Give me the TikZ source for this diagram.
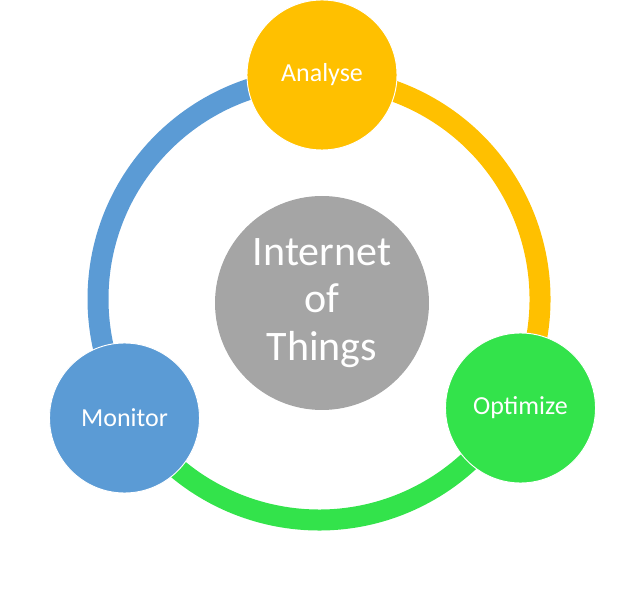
\documentclass[tikz,border=0pt]{standalone}
\usepackage{fontspec}
\setmainfont{Carlito}
\usetikzlibrary{positioning}
\definecolor{iotOrange}{HTML}{FFC000}
\definecolor{iotBlue}{HTML}{5B9BD5}
\definecolor{iotGreen}{HTML}{33E34B}
\definecolor{iotGray}{HTML}{A5A5A5}
\tikzset{
  stage/.style={circle, draw=white, line width=0.7pt, minimum size=112.5pt, inner sep=0pt, text=white, font=\fontsize{19.5}{23}\selectfont},
  hub/.style={circle, fill=iotGray, minimum size=160.5pt, inner sep=0pt, text=white, align=center, font=\fontsize{31.5}{35.6}\selectfont},
  ringarc/.style={line width=15.75pt},
}

\begin{document}
\begin{tikzpicture}[x=0.75pt,y=0.75pt]
  \useasboundingbox (0,0) rectangle (643,-591);

  % ring behind the stages
  \coordinate (ringc) at (319,-299);
  \draw[ringarc, draw=iotBlue] ([shift={(90:221)}]ringc) arc[start angle=90, end angle=211.5, radius=221];
  \draw[ringarc, draw=iotGreen] ([shift={(211.5:221)}]ringc) arc[start angle=211.5, end angle=331.6, radius=221];
  \draw[ringarc, draw=iotOrange] ([shift={(-28.4:221)}]ringc) arc[start angle=-28.4, end angle=90, radius=221];

  \node[hub] (iot) at (322,-303) {Internet\\of\\Things};

  % stages
  \node[stage, fill=iotOrange] (analyse) at (322,-75) {Analyse};
  \node[stage, fill=iotGreen] (optimize) at (520.5,-408) {Optimize};
  \node[stage, fill=iotBlue] (monitor) at (124.5,-418) {Monitor};
\end{tikzpicture}
\end{document}
